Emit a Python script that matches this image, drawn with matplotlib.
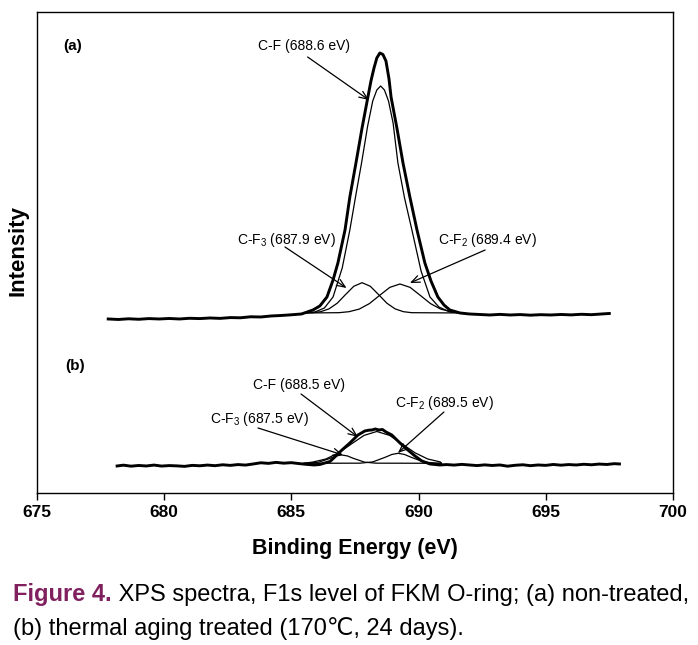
import matplotlib
matplotlib.use("Agg")
import matplotlib.pyplot as plt

plt.rcParams['font.family'] = ['Liberation Sans', 'DejaVu Sans']
plt.rcParams['mathtext.fontset'] = 'custom'
plt.rcParams['mathtext.rm'] = 'Liberation Sans'
plt.rcParams['mathtext.default'] = 'regular'

# ---- (a) non-treated: measured spectrum (binding energy eV, intensity a.u.) ----
be_a = [677.8, 678.2, 678.6, 679.0, 679.4, 679.8, 680.2, 680.6, 681.0, 681.4,
        681.8, 682.2, 682.6, 683.0, 683.4, 683.8, 684.2, 684.6, 685.0, 685.4,
        685.85, 686.12, 686.40, 686.64, 686.83, 687.11, 687.30, 687.54, 687.78, 688.01,
        688.13, 688.25, 688.36, 688.48, 688.60, 688.72, 688.84, 688.92, 689.15, 689.39,
        689.66, 689.94, 690.25, 690.49, 690.76, 691.00, 691.23, 691.63, 692.0, 692.4,
        692.8, 693.2, 693.6, 694.0, 694.4, 694.8, 695.2, 695.6, 696.0, 696.4,
        696.8, 697.2, 697.5]
int_a = [174.0, 173.5, 174.2, 173.7, 174.4, 174.0, 174.5, 174.0, 174.7, 174.4,
         175.0, 174.6, 175.4, 175.2, 176.2, 176.0, 177.0, 177.5, 178.2, 179.0,
         183, 187, 196, 213, 230, 263, 296, 330, 365, 396,
         412, 425, 435, 440, 438.5, 432, 414, 396, 365, 330,
         296, 263, 230, 212, 196, 188, 183, 180, 179.0, 178.5,
         178.0, 178.6, 178.0, 178.4, 177.8, 178.3, 178.0, 178.5, 178.1, 178.7,
         178.3, 179.0, 179.5]

# fitted components (a)
cf_a_be = [685.5, 685.93, 686.3, 686.64, 687.0, 687.30, 687.55, 687.76, 688.0, 688.2,
           688.36, 688.51, 688.66, 688.82, 689.0, 689.19, 689.45, 689.74, 690.1, 690.45,
           690.8, 691.23, 691.7]
cf_a_int = [180, 181, 185, 196, 225, 263, 300, 330, 367, 392,
            403, 407, 403, 392, 370, 330, 295, 263, 222, 196,
            186, 181, 180]
cf3_a_be = [685.5, 685.83, 686.155, 686.48, 686.805, 687.13, 687.455, 687.78, 688.105, 688.43,
            688.755, 689.08, 689.405, 689.73, 691.7]
cf3_a_int = [180, 180.3, 181.3, 184.1, 189.8, 198.4, 206.7, 210.3, 206.7, 198.4,
             189.8, 184.1, 181.3, 180.3, 180]
cf2_a_be = [685.5, 686.87, 687.27, 687.67, 688.07, 688.47, 688.87, 689.27, 689.67, 690.07,
            690.47, 690.87, 691.27, 691.67, 691.7]
cf2_a_int = [180, 180.3, 181.3, 183.9, 189.4, 197.6, 205.6, 209.0, 205.6, 197.6,
             189.4, 183.9, 181.3, 180.3, 180]

# ---- (b) thermal aging treated: measured spectrum ----
be_b = [678.15, 678.4, 678.7, 679.0, 679.3, 679.6, 679.9, 680.2, 680.5, 680.8,
        681.1, 681.4, 681.7, 682.0, 682.3, 682.6, 682.9, 683.2, 683.5, 683.8,
        684.1, 684.4, 684.7, 685.0, 685.3, 685.6, 685.9, 686.12, 686.52, 686.71,
        686.99, 687.30, 687.62, 687.89, 688.05, 688.17, 688.30, 688.44, 688.58, 688.72,
        688.95, 689.27, 689.58, 689.86, 690.13, 690.45, 690.84, 691.1, 691.4, 691.7,
        692.0, 692.3, 692.6, 692.9, 693.2, 693.5, 693.8, 694.1, 694.4, 694.7,
        695.0, 695.3, 695.6, 695.9, 696.2, 696.5, 696.8, 697.1, 697.4, 697.7, 697.9]
int_b = [27.0, 27.8, 26.8, 27.5, 27.0, 27.9, 26.9, 27.4, 27.1, 26.6,
         27.6, 27.2, 27.9, 27.3, 28.2, 27.6, 28.4, 27.9, 29.0, 30.2,
         29.6, 30.6, 29.8, 30.3, 29.4, 28.6, 28.0, 28.5, 31.5, 36.0,
         43.0, 50.0, 58.0, 62.0, 62.8, 63.0, 64.0, 63.0, 63.5, 61.0,
         58.0, 50.0, 43.0, 37.0, 32.0, 29.0, 28.0, 28.4, 27.9, 28.6,
         28.0, 27.4, 28.1, 27.5, 28.0, 26.8, 27.7, 28.2, 27.3, 28.0,
         27.6, 28.5, 27.8, 28.4, 28.0, 28.7, 28.2, 28.9, 28.5, 29.3, 29.0]

# fitted components (b)
cf_b_be = [685.5, 685.86, 686.36, 686.86, 687.36, 687.86, 688.36, 688.86, 689.36, 689.86,
           690.36, 690.86, 690.9]
cf_b_int = [29.7, 31.0, 34.0, 40.2, 49.0, 57.6, 61.5, 57.6, 49.0, 40.2,
            34.0, 31.0, 29.7]
cf3_b_be = [685.5, 685.63, 686.08, 686.53, 686.75, 686.98, 687.21, 687.43, 687.88, 688.33, 690.9]
cf3_b_int = [29.7, 29.8, 30.8, 34.7, 37.0, 38.0, 37.0, 34.7, 30.8, 29.8, 29.7]
cf2_b_be = [685.5, 687.7, 688.2, 688.7, 688.95, 689.2, 689.45, 689.7, 690.2, 690.7, 690.9]
cf2_b_int = [29.7, 29.8, 31.05, 35.8, 38.5, 39.7, 38.5, 35.8, 31.05, 29.8, 29.7]

# peak labels: (text, text position, arrow tail, arrow head)
labels = [
    ("C-F (688.6 eV)", (685.51, 447), (685.64, 436), (688.05, 393)),
    ("C-F$_3$ (687.9 eV)", (684.79, 253), (684.75, 246), (687.17, 205)),
    ("C-F$_2$ (689.4 eV)", (692.69, 253), (692.62, 243), (689.66, 210)),
    ("C-F (688.5 eV)", (685.30, 108), (685.38, 99), (687.62, 56)),
    ("C-F$_3$ (687.5 eV)", (683.73, 74), (683.69, 65), (687.03, 38)),
    ("C-F$_2$ (689.5 eV)", (691.00, 90), (691.00, 81), (689.19, 40)),
]

fig = plt.figure(figsize=(6.98, 6.45), dpi=100)
ax = fig.add_axes([0.053, 0.2357, 0.911, 0.7457])

for e, i in [(cf_a_be, cf_a_int), (cf3_a_be, cf3_a_int), (cf2_a_be, cf2_a_int),
             (cf_b_be, cf_b_int), (cf3_b_be, cf3_b_int), (cf2_b_be, cf2_b_int)]:
    ax.plot(e, i, color='black', lw=0.9)
ax.plot(be_a, int_a, color='black', lw=2.1, solid_joinstyle='round')
ax.plot(be_b, int_b, color='black', lw=2.1, solid_joinstyle='round')

for txt, tpos, tail, head in labels:
    ax.text(tpos[0], tpos[1], txt, ha='center', va='center', fontsize=10)
    ax.annotate('', xy=head, xytext=tail,
                arrowprops=dict(arrowstyle='->,head_length=0.6,head_width=0.25',
                                color='black', lw=0.9, shrinkA=0, shrinkB=0))

ax.text(676.4, 447, "(a)", ha='center', va='center', fontsize=11, fontweight='bold')
ax.text(676.5, 127, "(b)", ha='center', va='center', fontsize=11, fontweight='bold')

ax.set_xlim(675, 700)
ax.set_ylim(0, 481)
ax.set_xticks([675, 680, 685, 690, 695, 700])
ax.set_yticks([])
ax.tick_params(axis='x', direction='out', length=5, width=1, pad=4, labelsize=12.5)
for lab in ax.get_xticklabels():
    lab.set_fontweight('bold')
for sp in ax.spines.values():
    sp.set_linewidth(1.0)

ax.set_xlabel("Binding Energy (eV)", fontsize=15.5, fontweight='bold', va='center')
ax.xaxis.set_label_coords(0.5, -0.1164)
ax.set_ylabel("Intensity", fontsize=16, fontweight='bold', va='center')
ax.yaxis.set_label_coords(-0.030, 0.505)

# caption
t1 = fig.text(0.019, 0.068, "Figure 4.", fontsize=17, fontweight='bold',
              color='#80205F', va='baseline', ha='left')
ax.annotate(" XPS spectra, F1s level of FKM O-ring; (a) non-treated,",
            xy=(1, 0), xycoords=t1, va='bottom', ha='left', fontsize=17,
            annotation_clip=False)
fig.text(0.019, 0.0155, "(b) thermal aging treated (170\u2103, 24 days).",
         fontsize=17, va='baseline', ha='left')

fig.savefig("out.png", dpi=100)
